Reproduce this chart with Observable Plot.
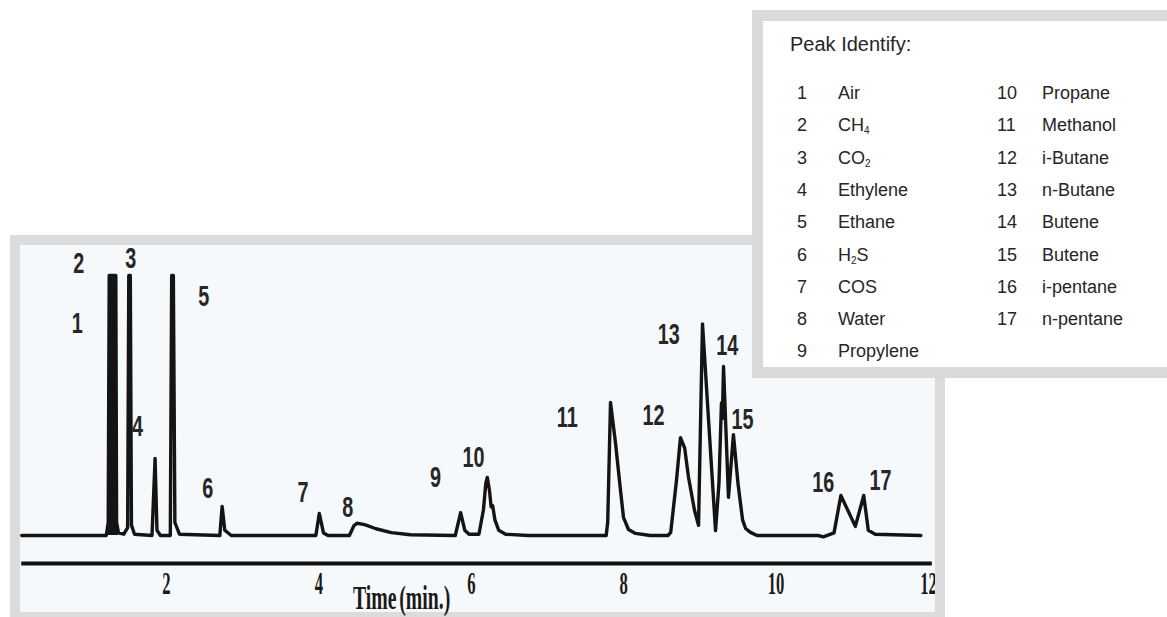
<!DOCTYPE html>
<html><head><meta charset="utf-8">
<script src="https://cdn.jsdelivr.net/npm/d3@7"></script>
<script src="https://cdn.jsdelivr.net/npm/@observablehq/plot@0.6"></script>
<style>
body{margin:0;background:#fff;}
#page{position:relative;width:1167px;height:617px;overflow:hidden;font-family:"Liberation Sans",Arial,sans-serif;}
#panelBg{position:absolute;left:20px;top:245px;width:915px;height:367px;background:#f6f9fb;}
#panelBorder{position:absolute;left:10px;top:235px;width:915px;height:367px;border:10px solid #dcdcdc;pointer-events:none;}
#chart{position:absolute;left:0;top:0;}
#xtitle{position:absolute;left:353px;top:582px;font-family:"Liberation Serif","Times New Roman",serif;font-weight:bold;font-size:33px;line-height:33px;transform:scaleX(0.6);transform-origin:left top;color:#1a1a1a;white-space:nowrap;word-spacing:-4px;}
#legend{position:absolute;left:752px;top:10px;width:420px;height:346px;border:11px solid #d9d9d9;background:#fff;color:#262626;}
#legend .title{position:absolute;left:27px;top:12px;font-size:20px;}
#legend .cell{position:absolute;font-size:18px;line-height:20px;white-space:nowrap;}
#legend sub{font-size:10px;vertical-align:-3px;}
</style>
</head><body>
<div id="page">
  <div id="panelBg"></div>
  <div id="chart"></div>
  <div id="panelBorder"></div>
  <div id="xtitle">Time (min.)</div>
  <div id="legend"><div class="title">Peak Identify:</div></div>
</div>
<script>
// ---- data ----
const traceTime = [0.10,1.21,1.235,1.248,1.335,1.345,1.37,1.44,1.49,1.505,1.525,1.54,1.58,1.81,1.85,1.875,1.92,2.05,2.068,2.09,2.11,2.17,2.70,2.73,2.765,2.85,3.96,4.005,4.06,4.12,4.40,4.46,4.50,4.60,4.75,4.95,5.20,5.79,5.86,5.915,5.97,6.10,6.16,6.19,6.21,6.24,6.26,6.28,6.31,6.36,6.45,6.75,7.77,7.79,7.827,7.892,7.958,7.997,8.063,8.155,8.35,8.58,8.617,8.693,8.745,8.80,8.85,8.929,8.982,9.034,9.205,9.25,9.283,9.295,9.31,9.375,9.44,9.50,9.56,9.60,9.664,9.75,10.55,10.62,10.76,10.85,11.04,11.15,11.21,11.30,11.90];
const traceSignal = [0,0,5,100,100,5,1,0.5,3,100,100,4,0.5,0,29.6,2,0,0,100,100,5,0.5,0,11.2,2,0,0,8.5,1,0,0,3.8,4.7,4.2,2.6,1.1,0.3,0,8.8,2,0.5,0.5,10,20,22.3,17,11,11.5,6,2,0.5,0,0,5,51.2,35.7,17.4,7.0,2.3,0.8,0,0,1.2,21.3,37.6,33.7,22.5,9.7,3.9,81.4,1.9,20,51,45,65,14.7,38.8,20,6,2.7,1.2,0,0,-0.5,1,15.4,3.5,15.4,2,0.5,0];

const peakIds = ["1","2","3","4","5","6","7","8","9","10","11","12","13","14","15","16","17"];
const peakLabelTime = [0.83,0.85,1.53,1.62,2.49,2.54,3.79,4.38,5.53,6.03,7.26,8.39,8.59,9.36,9.56,10.62,11.37];
const peakLabelSignal = [81.4,104.7,106.6,41.9,91.9,18.1,16.5,10.8,22.3,30.0,45.4,46.2,77.3,73.1,44.6,20.4,21.2];

const xTicks = [2,4,6,8,10,12];

const legendNum = [1,2,3,4,5,6,7,8,9,10,11,12,13,14,15,16,17];
const legendName = ["Air","CH<sub>4</sub>","CO<sub>2</sub>","Ethylene","Ethane","H<sub>2</sub>S","COS","Water","Propylene","Propane","Methanol","i-Butane","n-Butane","Butene","Butene","i-pentane","n-pentane"];

// window of the merged, solid-looking Air/CH4 peak
const mergedPeakStart = 1.21, mergedPeakEnd = 1.37;

// ---- build ----
const trace = traceTime.map((t,i)=>({t, s: traceSignal[i]}));
const merged = trace.filter(d => d.t >= mergedPeakStart && d.t <= mergedPeakEnd);
const labels = peakIds.map((id,i)=>({id, t: peakLabelTime[i], s: peakLabelSignal[i]}));

const AXIS_FLOOR = -10.77;
const plot = Plot.plot({
  width: 1167, height: 617,
  marginLeft: 13.6, marginRight: 239, marginTop: 275, marginBottom: 54,
  style: {background: "transparent", overflow: "visible"},
  x: {domain: [0, 12], axis: null},
  y: {domain: [AXIS_FLOOR, 100], axis: null},
  marks: [
    Plot.ruleY([AXIS_FLOOR], {x1: 0.1, x2: 12.05, stroke: "#111", strokeWidth: 4}),
    Plot.areaY(merged, {x: "t", y: "s", fill: "#141414"}),
    Plot.line(trace, {x: "t", y: "s", stroke: "#141414", strokeWidth: 3.4, strokeLinejoin: "round", curve: "linear"}),
    Plot.text(labels, {x: "t", y: "s", text: "id", fontSize: 30, fontWeight: "bold", fill: "#262626",
      fontFamily: "'Liberation Sans',Arial,sans-serif",
      textAnchor: "middle", lineAnchor: "middle"}),
    Plot.axisX(xTicks, {anchor: "bottom", tickSize: 0, tickPadding: 8, fontSize: 32, fontWeight: "bold",
      fontFamily: "'Liberation Serif','Times New Roman',serif", fill: "#1a1a1a", label: null})
  ]
});
document.getElementById("chart").appendChild(plot);

// condense text horizontally (narrow typefaces are not installed)
function condense(selector, sx) {
  d3.select(plot).selectAll(selector).each(function(){
    const el = this;
    if (el.hasAttribute("x")) el.setAttribute("x", (+el.getAttribute("x")) / sx);
    const tr = el.getAttribute("transform") || "";
    el.setAttribute("transform", (tr + " scale(" + sx + ",1)").trim());
  });
}
condense('g[aria-label="x-axis tick label"] text', 0.52);
condense('g[aria-label="text"] text', 0.66);

// legend
const legend = document.getElementById("legend");
legendNum.forEach((n,i)=>{
  const col = i < 9 ? 0 : 1;
  const row = i < 9 ? i : i - 9;
  const top = 72 + row * 32.3 - 10;
  const numDiv = document.createElement("div");
  numDiv.className = "cell";
  numDiv.style.left = (col === 0 ? 34 : 234) + "px";
  numDiv.style.top = top + "px";
  numDiv.textContent = n;
  const nameDiv = document.createElement("div");
  nameDiv.className = "cell";
  nameDiv.style.left = (col === 0 ? 75 : 279) + "px";
  nameDiv.style.top = top + "px";
  nameDiv.innerHTML = legendName[i];
  legend.appendChild(numDiv);
  legend.appendChild(nameDiv);
});
</script>
</body></html>
